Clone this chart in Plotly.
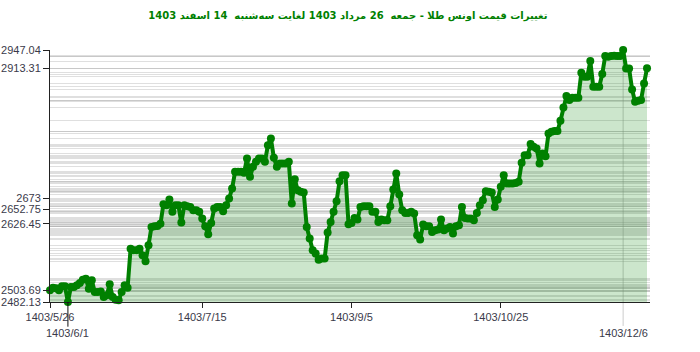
import plotly.graph_objects as go

# Day offsets from 1403/5/26 (one point per calendar day up to 1403/12/14)
days = list(range(201))

prices = [
    2503.69, 2508.6, 2507.4, 2503.7, 2511.1, 2511.1, 2482.13, 2509.8, 2509.8, 2512.9,
    2517.2, 2523.4, 2525.2, 2506.8, 2522.2, 2500.6, 2500.6, 2501.4, 2491.4, 2494.4,
    2514.8, 2491.4, 2486.4, 2485.2, 2500.6, 2512.9, 2508.6, 2580.6, 2577.6, 2577.6,
    2580.6, 2568.3, 2557.2, 2586.8, 2620.7, 2621.9, 2622.3, 2626.45, 2662.5, 2660.7,
    2671.2, 2648.4, 2660.7, 2660.7, 2628.7, 2660.7, 2658.8, 2657.6, 2651.5, 2651.5,
    2648.4, 2636.1, 2621.9, 2607.1, 2628.1, 2654.5, 2657.6, 2657.6, 2649.6, 2660.7,
    2673.0, 2691.5, 2722.3, 2722.3, 2722.3, 2720.4, 2746.9, 2713.0, 2731.5, 2740.7,
    2746.9, 2746.9, 2740.7, 2771.5, 2783.8, 2748.1, 2731.5, 2737.7, 2737.7, 2737.7,
    2740.7, 2663.8, 2708.7, 2688.4, 2685.3, 2684.1, 2620.7, 2599.1, 2577.6, 2571.4,
    2560.3, 2562.2, 2562.2, 2610.2, 2629.9, 2648.4, 2668.1, 2705.0, 2716.1, 2716.1,
    2625.6, 2628.1, 2637.3, 2634.2, 2657.6, 2658.8, 2658.8, 2658.8, 2648.4, 2648.4,
    2629.9, 2634.2, 2633.0, 2633.0, 2658.8, 2689.6, 2719.2, 2680.4, 2651.5, 2646.5,
    2646.5, 2648.4, 2645.3, 2605.3, 2597.3, 2625.0, 2621.9, 2621.9, 2611.4, 2614.5,
    2615.7, 2634.2, 2614.5, 2617.6, 2620.7, 2608.4, 2621.9, 2623.7, 2657.6, 2637.3,
    2636.1, 2636.1, 2633.0, 2646.5, 2660.7, 2669.9, 2686.5, 2685.3, 2684.1, 2657.6,
    2671.2, 2694.6, 2716.1, 2700.7, 2700.7, 2700.7, 2701.9, 2703.8, 2738.9, 2753.0,
    2753.0, 2773.4, 2768.4, 2765.4, 2737.7, 2756.1, 2751.2, 2793.1, 2796.1, 2797.4,
    2797.4, 2816.5, 2841.1, 2862.0, 2854.6, 2858.9, 2858.9, 2858.9, 2905.1, 2897.7,
    2897.7, 2926.7, 2879.3, 2879.3, 2879.3, 2902.7, 2935.9, 2934.8, 2935.9, 2936.5,
    2935.9, 2935.9, 2947.04, 2913.1, 2913.1, 2874.3, 2851.6, 2853.4, 2854.6, 2885.4,
    2913.31,
]

y_tick_values = [2947.04, 2913.31, 2673, 2652.75, 2626.45, 2503.69, 2482.13]
y_tick_labels = ["2947.04", "2913.31", "2673", "2652.75", "2626.45", "2503.69", "2482.13"]

x_tick_days = [0, 51, 101, 151]
x_tick_labels = ["1403/5/26", "1403/7/15", "1403/9/5", "1403/10/25"]

min_day, min_label = 6, "1403/6/1"
max_day, max_label = 192, "1403/12/6"

title_text = "تغییرات قیمت اونس طلا - جمعه  26 مرداد 1403 لغایت سه\u200cشنبه  14 اسفند 1403"

y_lo, y_hi = min(prices), max(prices)

fig = go.Figure()
fig.add_trace(go.Scatter(
    x=days, y=prices, mode="lines+markers",
    line=dict(color="#008000", width=4),
    marker=dict(color="#008000", size=8),
    fill="tozeroy", fillcolor="rgba(0,128,0,0.2)",
    cliponaxis=False, hoverinfo="x+y", showlegend=False,
))

label_font = dict(family="Liberation Sans, Arial, sans-serif", size=11, color="#3a3a4a")

fig.update_layout(
    width=700, height=352,
    margin=dict(l=50, r=50, t=50, b=50, autoexpand=False),
    paper_bgcolor="white", plot_bgcolor="white",
    title=dict(text=title_text, x=0.497, xanchor="center", y=1 - 15 / 352, yanchor="middle",
               yref="container", automargin=False,
               font=dict(family="Tahoma, DejaVu Sans, sans-serif", size=10, color="#008000", weight="bold")),
    xaxis=dict(range=[0, 201], tickvals=x_tick_days, ticktext=x_tick_labels, automargin=False,
               showgrid=False, zeroline=False, showline=True, linecolor="#222", linewidth=1,
               ticks="outside", ticklen=5, tickcolor="#222", tickfont=label_font),
    yaxis=dict(range=[y_lo, y_hi], tickvals=y_tick_values, ticktext=y_tick_labels, automargin=False,
               showgrid=False, zeroline=False, showline=True, linecolor="#222", linewidth=1,
               ticks="outside", ticklen=6, tickcolor="#222", tickfont=label_font),
    yaxis2=dict(range=[y_lo, y_hi], overlaying="y", side="left", tickvals=prices, automargin=False,
                showticklabels=False, ticks="", showline=False, zeroline=False,
                showgrid=True, gridcolor="rgba(150,150,150,0.3)", gridwidth=1),
)

# invisible trace so yaxis2 is drawn
fig.add_trace(go.Scatter(x=[0], y=[y_lo], yaxis="y2", mode="markers",
                         marker=dict(opacity=0), hoverinfo="skip", showlegend=False))

fig.add_shape(type="line", xref="x", yref="paper", x0=max_day, x1=max_day, y0=1, y1=-0.095,
              line=dict(color="#cccccc", width=1), layer="below")
fig.add_shape(type="line", xref="x", yref="paper", x0=min_day, x1=min_day, y0=0, y1=-0.098,
              line=dict(color="#111", width=1))

for d, t in [(min_day, min_label), (max_day, max_label)]:
    fig.add_annotation(x=d, xref="x", y=-0.124, yref="paper", text=t, showarrow=False,
                       xanchor="center", yanchor="middle", font=label_font)

fig.write_html("out.html")
